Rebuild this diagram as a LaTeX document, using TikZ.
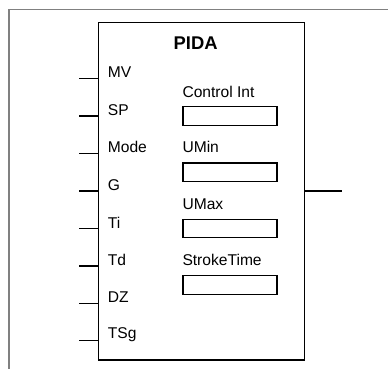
\documentclass[tikz,border=0pt]{standalone}
\usepackage{fontspec}
\setmainfont{Liberation Sans}
\begin{document}
\begin{tikzpicture}[x=1pt,y=-1pt,
  lbl/.style={anchor=west,inner sep=0pt,font=\fontsize{15.6}{18}\selectfont},
  pin/.style={line width=1.2pt},
  parbox/.style={draw,line width=1.2pt,minimum width=94pt,minimum height=18.5pt,inner sep=0pt,anchor=north west},
  frame/.style={draw=gray,line width=1.6pt}]
\useasboundingbox (0,0) rectangle (388,369);
\fill[white] (0,0) rectangle (388,369);
\draw[frame] (8.7,369) -- (8.7,9.7) -- (388,9.7);
\node[draw,line width=1.3pt,minimum width=206.3pt,minimum height=337.3pt,inner sep=0pt,anchor=north west] (blk) at (97.7,22) {};
\node[font=\fontsize{18.4}{20}\selectfont\bfseries] (title) at (195.7,43.5) {PIDA};
\foreach \n/\t/\yl/\yt in {mv/MV/78.7/71.7, sp/SP/116/110, mode/Mode/153.3/147.3, g/G/191/185, ti/Ti/228.7/223, td/Td/266/260, dz/DZ/303.3/296.7, tsg/TSg/340.7/335}{
  \coordinate (p\n) at (79,\yl);
  \coordinate (q\n) at (97.7,\yl);
  \draw[pin] (p\n) -- (q\n);
  \node[lbl] (l\n) at (107.7,\yt) {\t};
}
\coordinate (oa) at (304,191);
\coordinate (ob) at (342.3,191);
\draw[pin] (oa) -- (ob);
\foreach \n/\t/\yl/\yb in {ci/Control Int/91.7/106, umin/UMin/147.3/162.3, umax/UMax/204/218.7, st/StrokeTime/260/275}{
  \node[lbl] (t\n) at (182.3,\yl) {\t};
  \node[parbox] (b\n) at (182.3,\yb) {};
}
\end{tikzpicture}
\end{document}
